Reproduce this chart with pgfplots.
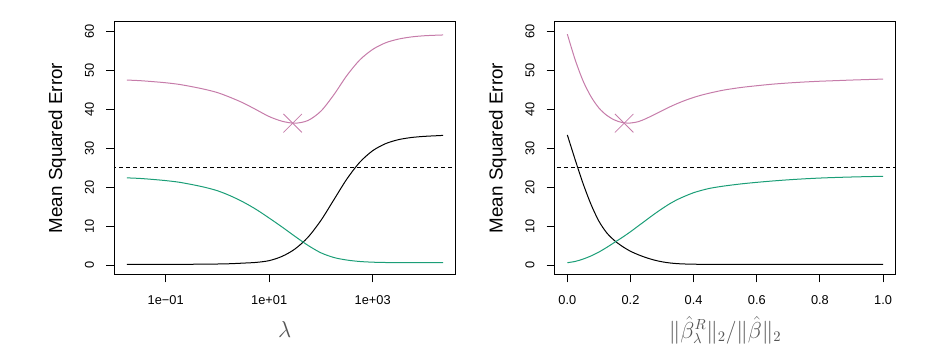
\documentclass[border=0pt]{standalone}
\usepackage{fontspec}
\setmainfont{Liberation Sans}
\usepackage{pgfplots}
\pgfplotsset{compat=1.18}
\definecolor{mypurple}{RGB}{198,124,170}
\definecolor{mygreen}{RGB}{27,158,119}
\definecolor{labgray}{RGB}{85,85,85}
\pgfplotsset{
  myaxis/.style={
    scale only axis, width=255.75pt, height=189.45pt,
    anchor=south west,
    axis line style={line width=0.8pt},
    tick align=outside, xtick pos=bottom, ytick pos=left,
    major tick length=6pt,
    every tick/.style={line width=0.8pt, black},
    ymin=-2.3, ymax=62.4, ytick={0,10,20,30,40,50,60},
    /pgf/number format/assume math mode=true,
    tick label style={font=\fontsize{9.6}{11}\selectfont},
    yticklabel style={rotate=90, anchor=south, inner sep=0pt},
    xticklabel style={anchor=north, inner sep=0pt},
    yticklabel shift=9pt,
    xticklabel shift=9.4pt,
    every axis y label/.style={at={(axis description cs:-0.1672,0.5)}, rotate=90, anchor=center, font=\fontsize{14.1}{16}\selectfont},
    every axis x label/.style={at={(axis description cs:0.5,-0.2205)}, anchor=center, text=labgray, font=\fontsize{16}{18}\selectfont},
    ylabel={Mean Squared Error},
    every axis plot/.append style={line width=0.75pt},
  }
}
\begin{document}
\begin{tikzpicture}
\path[use as bounding box] (0,0) rectangle (706.5pt,269.25pt);
% ---------------- left panel ----------------
\begin{axis}[myaxis, at={(85.725pt,63.525pt)},
  xmode=log, xmin=0.01016, xmax=39446, xminorticks=false,
  xtick={0.1,10,1000}, xticklabels={1e−01,1e+01,1e+03},
  xlabel={$\lambda$}]
\addplot[black, dash pattern=on 3pt off 2.25pt, line width=0.7pt] coordinates {(0.005,25) (100000,25)};
% squared bias
\addplot[black, smooth] coordinates {
(0.017783,0.25) (0.031623,0.25) (0.056234,0.25) (0.1,0.256) (0.17783,0.262) (0.31623,0.27)
(0.56234,0.294) (1,0.335) (1.7783,0.41) (3.1623,0.566) (5.6234,0.75) (10,1.2)
(17.783,2.3) (31.623,4.2) (56.234,7.2) (100,11.51) (177.83,16.8) (316.23,22.09)
(562.34,26.4) (1000,29.36) (1778.3,31.17) (3162.3,32.19) (5623.4,32.74) (10000,33.03)
(17783,33.2) (22909,33.28)};
% variance
\addplot[mygreen, smooth] coordinates {
(0.017783,22.4) (0.031623,22.25) (0.056234,22.0) (0.1,21.7) (0.17783,21.3) (0.31623,20.7)
(0.56234,20.0) (1,19.1) (1.7783,17.8) (3.1623,16.2) (5.6234,14.3) (10,12.1)
(17.783,9.8) (31.623,7.4) (56.234,5.1) (100,3.2) (177.83,2.0) (316.23,1.35)
(562.34,0.98) (1000,0.8) (1778.3,0.72) (3162.3,0.69) (5623.4,0.68) (10000,0.67)
(17783,0.67) (22909,0.67)};
% test MSE
\addplot[mypurple, smooth] coordinates {
(0.017783,47.45) (0.031623,47.3) (0.056234,47.05) (0.1,46.76) (0.17783,46.36) (0.31623,45.77)
(0.56234,45.09) (1,44.24) (1.7783,43.0) (3.1623,41.57) (5.6234,39.85) (10,38.1)
(17.783,36.9) (31.623,36.4) (56.234,37.1) (100,39.5) (177.83,43.7) (316.23,48.6)
(562.34,52.6) (1000,55.3) (1778.3,57.0) (3162.3,57.95) (5623.4,58.5) (10000,58.8)
(17783,58.95) (22909,59.0)};
\addplot[mypurple, only marks, mark=x, mark size=9.8pt, mark options={line width=0.6pt}] coordinates {(28.4,36.4)};
\end{axis}
% ---------------- right panel ----------------
\begin{axis}[myaxis, at={(416.025pt,63.525pt)},
  xmin=-0.04, xmax=1.04,
  xtick={0,0.2,0.4,0.6,0.8,1}, xticklabels={0.0,0.2,0.4,0.6,0.8,1.0},
  xlabel={$\|\hat{\beta}^R_\lambda\|_2/\|\hat{\beta}\|_2$}]
\addplot[black, dash pattern=on 3pt off 2.25pt, line width=0.7pt] coordinates {(-0.1,25) (1.1,25)};
% squared bias
\addplot[black, smooth] coordinates {
(0.000,33.4) (0.025,27.0) (0.050,20.9) (0.075,15.6) (0.100,11.3) (0.125,8.3)
(0.150,6.3) (0.175,4.8) (0.200,3.6) (0.225,2.7) (0.250,1.95) (0.275,1.35)
(0.300,0.9) (0.325,0.6) (0.350,0.42) (0.375,0.33) (0.400,0.28) (0.450,0.25)
(0.500,0.25) (0.600,0.25) (0.700,0.25) (0.800,0.25) (0.900,0.25) (1.000,0.25)};
% variance
\addplot[mygreen, smooth] coordinates {
(0.000,0.67) (0.025,1.0) (0.050,1.6) (0.075,2.4) (0.100,3.4) (0.125,4.6)
(0.150,5.9) (0.175,7.2) (0.200,8.6) (0.225,10.1) (0.250,11.6) (0.275,13.1)
(0.300,14.5) (0.325,15.8) (0.350,16.9) (0.375,17.8) (0.400,18.6) (0.425,19.2)
(0.450,19.7) (0.475,20.05) (0.500,20.35) (0.55,20.85) (0.60,21.25) (0.65,21.6)
(0.70,21.9) (0.75,22.15) (0.80,22.35) (0.85,22.5) (0.90,22.62) (0.95,22.72) (1.00,22.8)};
% test MSE
\addplot[mypurple, smooth] coordinates {
(0.000,59.2) (0.025,52.6) (0.050,47.2) (0.075,43.2) (0.100,40.3) (0.125,38.4)
(0.150,37.2) (0.175,36.55) (0.200,36.45) (0.225,36.8) (0.250,37.6) (0.275,38.6)
(0.300,39.6) (0.325,40.6) (0.350,41.5) (0.375,42.3) (0.400,43.0) (0.425,43.6)
(0.450,44.1) (0.475,44.55) (0.500,44.95) (0.55,45.55) (0.60,46.0) (0.65,46.4)
(0.70,46.7) (0.75,46.95) (0.80,47.15) (0.85,47.3) (0.90,47.45) (0.95,47.58) (1.00,47.7)};
\addplot[mypurple, only marks, mark=x, mark size=9.8pt, mark options={line width=0.6pt}] coordinates {(0.18,36.4)};
\end{axis}
\end{tikzpicture}
\end{document}
